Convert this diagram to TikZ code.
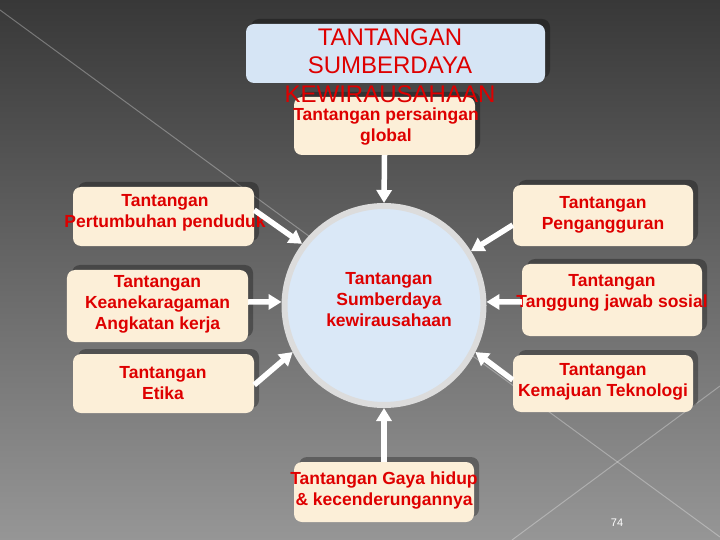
\documentclass[tikz,border=0pt]{standalone}
\usepackage{fontspec}
\setmainfont{Liberation Sans}
\usetikzlibrary{shadows,arrows.meta,calc}
\definecolor{bgtop}{RGB}{56,56,56}
\definecolor{bgbot}{RGB}{150,150,150}
\definecolor{cream}{RGB}{252,239,216}
\definecolor{lblue}{RGB}{214,229,245}
\definecolor{cblue}{RGB}{218,232,247}
\definecolor{ring}{RGB}{220,220,220}
\definecolor{txtred}{RGB}{222,0,0}
\tikzset{
  cbox/.style={fill=cream, rounded corners=8bp, draw=none, inner sep=0pt,
    general shadow={fill=black, opacity=0.3, shadow xshift=5bp, shadow yshift=5bp}},
  tbox/.style={cbox, fill=lblue},
  btxt/.style={text=txtred, font=\fontsize{17.5bp}{21bp}\selectfont\bfseries, align=center, inner sep=0pt},
  ttxt/.style={text=txtred, font=\fontsize{24bp}{28.5bp}\selectfont, align=center, inner sep=0pt},
  arr/.style={draw=white, line width=5.5bp, -{Triangle[width=15bp,length=13bp]}},
  bgline/.style={draw=white, opacity=0.3, line width=1bp},
  pnum/.style={text=white, font=\fontsize{11bp}{13bp}\selectfont, inner sep=0pt},
}
\begin{document}
\begin{tikzpicture}[x=1bp,y=-1bp]
\useasboundingbox (0,0) rectangle (720,540);
\shade[top color=bgtop,bottom color=bgbot] (0,0) rectangle (720,540);
\draw[bgline] (0,10) -- (720,537);
\draw[bgline] (512,540) -- (720,386);

% title box
\node[tbox, minimum width=299bp, minimum height=59bp] (title) at (395.5,53.5) {};

% central circle
\node[circle, minimum size=199bp, fill=cblue, draw=ring, line width=6bp, inner sep=0pt] (core) at (384,305.5) {};
\node[btxt] (coretext) at (389,300) {Tantangan\\Sumberdaya\\kewirausahaan};

% boxes
\node[cbox, minimum width=181bp, minimum height=58bp] (glob) at (384.5,126) {};
\node[btxt] (globtext) at (386,126.5) {Tantangan persaingan\\global};

% title text drawn over the box below
\node[ttxt] (titletext) at (390,65.5) {TANTANGAN\\SUMBERDAYA\\KEWIRAUSAHAAN};

\node[cbox, minimum width=181bp, minimum height=59bp] (pert) at (163.5,216.5) {};
\node[btxt] (perttext) at (165,212.5) {Tantangan\\Pertumbuhan penduduk};

\node[cbox, minimum width=181bp, minimum height=72bp] (kean) at (157.5,306) {};
\node[btxt] (keantext) at (157.5,304) {Tantangan\\Keanekaragaman\\Angkatan kerja};

\node[cbox, minimum width=181bp, minimum height=59bp] (etika) at (163.5,383.5) {};
\node[btxt] (etikatext) at (163,383) {Tantangan\\Etika};

\node[cbox, minimum width=180bp, minimum height=61bp] (peng) at (603,215.5) {};
\node[btxt] (pengtext) at (603,215) {Tantangan\\Pengangguran};

\node[cbox, minimum width=180bp, minimum height=72bp] (tang) at (612,300) {};
\node[btxt] (tangtext) at (612,292.5) {Tantangan\\Tanggung jawab sosial};

\node[cbox, minimum width=180bp, minimum height=57bp] (kem) at (603,383.5) {};
\node[btxt] (kemtext) at (603,382) {Tantangan\\Kemajuan Teknologi};

\node[cbox, minimum width=180bp, minimum height=60bp] (gaya) at (384,492) {};
\node[btxt] (gayatext) at (384,491) {Tantangan Gaya hidup\\\& kecenderungannya};

% arrows
\draw[arr] (glob.south) -- (core.90);
\draw[arr] ($(pert.east)+(0,-6.5)$) -- (core.143.5);
\draw[arr] ($(kean.east)+(0,-4)$) -- (core.178);
\draw[arr] ($(etika.east)+(0,1.5)$) -- (core.207);
\draw[arr] ($(peng.west)+(0,9.5)$) -- (core.32);
\draw[arr] ($(tang.west)+(0,2)$) -- (core.2);
\draw[arr] ($(kem.west)+(0,-3.5)$) -- (core.333);
\draw[arr] (gaya.north) -- (core.270);

\node[pnum] (pn) at (617,523) {74};
\end{tikzpicture}
\end{document}
